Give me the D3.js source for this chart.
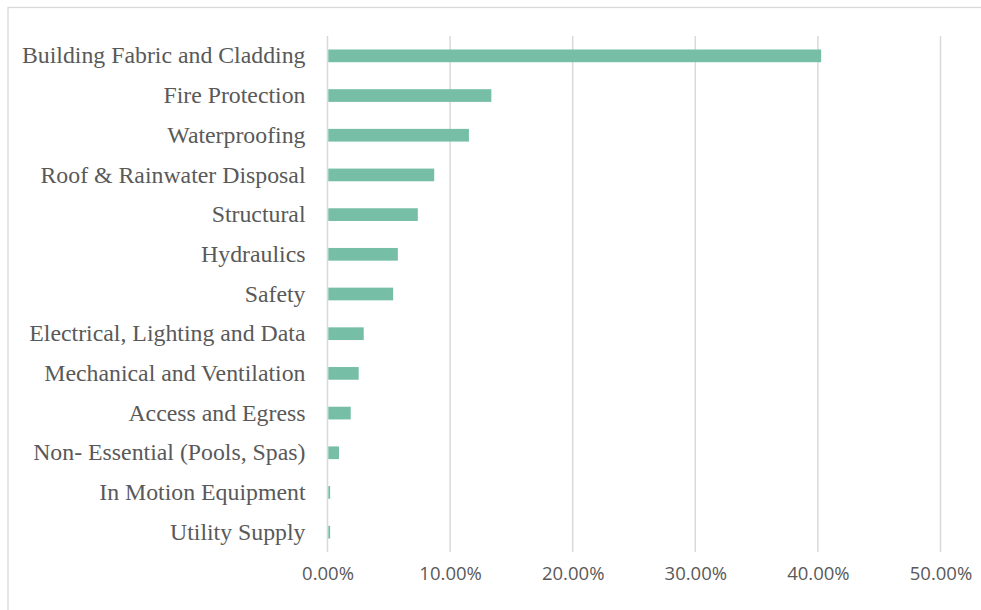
<!DOCTYPE html>
<html>
<head>
<meta charset="utf-8">
<script src="https://cdn.jsdelivr.net/npm/d3@7"></script>
<style>
html,body{margin:0;padding:0;background:#fff;}
svg{display:block;}
</style>
</head>
<body>
<svg id="chart" width="981" height="610"></svg>
<script>
const categories = [
  "Building Fabric and Cladding",
  "Fire Protection",
  "Waterproofing",
  "Roof & Rainwater Disposal",
  "Structural",
  "Hydraulics",
  "Safety",
  "Electrical, Lighting and Data",
  "Mechanical and Ventilation",
  "Access and Egress",
  "Non- Essential (Pools, Spas)",
  "In Motion Equipment",
  "Utility Supply"
];
const values = [40.2, 13.3, 11.47, 8.64, 7.3, 5.67, 5.29, 2.89, 2.48, 1.83, 0.87, 0.15, 0.15];
const tickValues = [0, 10, 20, 30, 40, 50];

const svg = d3.select("#chart");
const margin = {left: 327.5, right: 40.5, top: 36, bottom: 58};
const W = 981, H = 610;

// outer chart border
svg.append("rect").attr("x", 8).attr("y", 7.5).attr("width", 990).attr("height", 620)
  .attr("fill", "none").attr("stroke", "#d9d9d9").attr("stroke-width", 1.3);

const x = d3.scaleLinear().domain([0, 50]).range([margin.left, W - margin.right]);
const y = d3.scaleBand().domain(categories).range([margin.top, H - margin.bottom]).paddingInner(0.68).paddingOuter(0.34);

// gridlines
svg.append("g").selectAll("line").data(tickValues).join("line")
  .attr("x1", d => x(d)).attr("x2", d => x(d))
  .attr("y1", margin.top).attr("y2", H - margin.bottom)
  .attr("stroke", "#d9d9d9").attr("stroke-width", 1.5);

// bars
svg.append("g").selectAll("rect").data(values).join("rect")
  .attr("x", x(0) + 0.8)
  .attr("y", (d, i) => y(categories[i]))
  .attr("width", d => Math.max(0, x(d) - x(0)))
  .attr("height", y.bandwidth())
  .attr("fill", "#76bea6");

// category labels
const yAxis = d3.axisLeft(y).tickSize(0).tickPadding(22);
const gy = svg.append("g").attr("transform", `translate(${x(0)},0)`).call(yAxis);
gy.select(".domain").remove();
gy.selectAll("text")
  .attr("font-family", "'Liberation Serif', 'Times New Roman', serif")
  .attr("font-size", 23.8)
  .attr("fill", "#595959");

// x tick labels
const xAxis = d3.axisBottom(x).tickValues(tickValues).tickSize(0).tickPadding(15)
  .tickFormat(d => d.toFixed(2) + "%");
const gx = svg.append("g").attr("transform", `translate(0,${H - margin.bottom})`).call(xAxis);
gx.select(".domain").remove();
gx.selectAll("text")
  .attr("font-family", "'Open Sans', 'Noto Sans', sans-serif")
  .attr("font-size", 18.5)
  .attr("fill", "#595959");
</script>
</body>
</html>
